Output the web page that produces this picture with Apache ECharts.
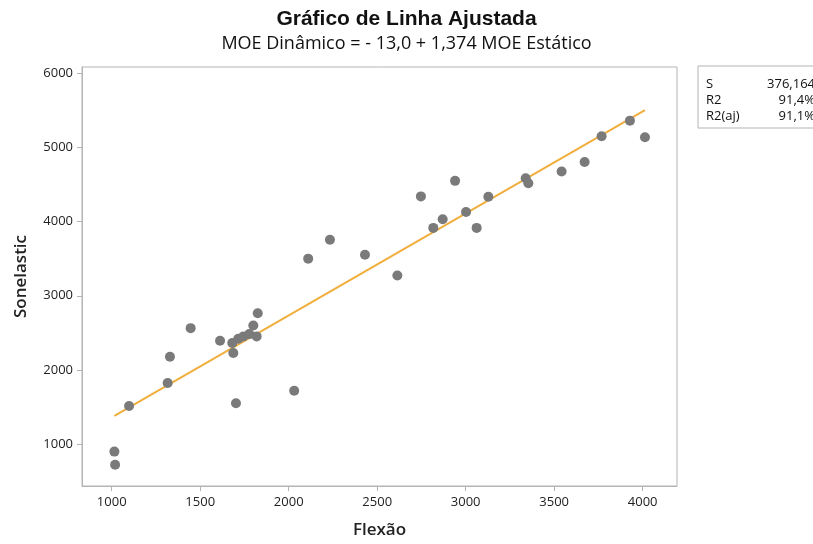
<!DOCTYPE html>
<html>
<head>
<meta charset="utf-8">
<script src="https://cdn.jsdelivr.net/npm/echarts@6/dist/echarts.min.js"></script>
<style>
  html, body { margin: 0; padding: 0; background: #fff; }
  #chart { width: 813px; height: 544px; }
</style>
</head>
<body>
<div id="chart"></div>
<script>
// valores (Flexão x Sonelastic)
var flexao = [1015, 1019, 1098, 1316, 1329, 1446, 1612, 1681, 1687, 1715, 1744, 1777, 1800, 1819, 1825,
  1702, 2031, 2110, 2233, 2431, 2614, 2747, 2817, 2870, 2940, 3002, 3062, 3128, 3339, 3354, 3542, 3672, 3768, 3928, 4013];
var sonelastic = [902, 724, 1517, 1825, 2180, 2564, 2394, 2364, 2230, 2421, 2453, 2484, 2600, 2453, 2765,
  1552, 1722, 3500, 3754, 3553, 3273, 4338, 3914, 4031, 4547, 4128, 3914, 4333, 4583, 4516, 4672, 4801, 5148, 5358, 5135];
var xTicks = [1000, 1500, 2000, 2500, 3000, 3500, 4000];
var yTicks = [1000, 2000, 3000, 4000, 5000, 6000];
var intercepto = -13.0;
var inclinacao = 1.374;
var estatisticas = [['S', '376,164'], ['R2', '91,4%'], ['R2(aj)', '91,1%']];

var pontos = flexao.map(function (x, i) { return [x, sonelastic[i]]; });
var xMin = Math.min.apply(null, flexao);
var xMax = Math.max.apply(null, flexao);
var reta = [xMin, xMax].map(function (x) { return [x, intercepto + inclinacao * x]; });

var myChart = echarts.init(document.getElementById('chart'));

var caixa = [{
  type: 'rect',
  shape: { x: 698, y: 66, width: 130, height: 62 },
  style: { fill: '#fff', stroke: '#b4b4b4', lineWidth: 1 }
}];
estatisticas.forEach(function (s, i) {
  caixa.push({ type: 'text', x: 706, y: 84 + i * 16,
    style: { text: s[0], fill: '#111', font: '13px "Open Sans", sans-serif', verticalAlign: 'middle' } });
  caixa.push({ type: 'text', x: 815, y: 84 + i * 16,
    style: { text: s[1], fill: '#111', font: '13px "Open Sans", sans-serif', align: 'right', verticalAlign: 'middle' } });
});

option = {
  animation: false,
  title: [{
    text: 'Gráfico de Linha Ajustada',
    left: 'center',
    top: 4,
    textStyle: { fontFamily: 'Liberation Sans', fontWeight: 'bold', fontSize: 21, color: '#111' }
  }, {
    text: 'MOE Dinâmico = - 13,0 + 1,374 MOE Estático',
    left: 'center',
    top: 30,
    textStyle: { fontFamily: 'Open Sans', fontWeight: 'normal', fontSize: 18, color: '#111' }
  }],
  grid: {
    left: 82, right: 136, top: 67, bottom: 55,
    show: true, borderColor: '#b4b4b4', borderWidth: 1
  },
  xAxis: {
    type: 'value',
    min: 832, max: 4194,
    name: 'Flexão',
    nameLocation: 'middle',
    nameGap: 36,
    nameTextStyle: { fontFamily: 'Open Sans', fontWeight: 600, fontSize: 17, color: '#222' },
    splitLine: { show: false },
    axisLine: { show: true, lineStyle: { color: '#b4b4b4' } },
    axisTick: { show: true, length: 5, customValues: xTicks, lineStyle: { color: '#b4b4b4' } },
    axisLabel: { customValues: xTicks, formatter: function (v) { return String(v); },
      fontFamily: 'Open Sans', fontSize: 13, color: '#222', margin: 10 }
  },
  yAxis: {
    type: 'value',
    min: 439, max: 6080,
    name: 'Sonelastic',
    nameLocation: 'middle',
    nameGap: 52,
    nameTextStyle: { fontFamily: 'Open Sans', fontWeight: 600, fontSize: 17, color: '#222' },
    splitLine: { show: false },
    axisLine: { show: true, lineStyle: { color: '#b4b4b4' } },
    axisTick: { show: true, length: 5, customValues: yTicks, lineStyle: { color: '#b4b4b4' } },
    axisLabel: { customValues: yTicks, formatter: function (v) { return String(v); },
      fontFamily: 'Open Sans', fontSize: 13, color: '#222', margin: 9 }
  },
  series: [{
    type: 'line',
    data: reta,
    symbol: 'none',
    lineStyle: { color: '#f0ae3c', width: 2 },
    z: 2
  }, {
    type: 'scatter',
    data: pontos,
    symbol: 'circle',
    symbolSize: 10,
    itemStyle: { color: '#7a7a7a', opacity: 1 },
    z: 3
  }],
  graphic: caixa
};

myChart.setOption(option, true);
</script>
</body>
</html>
